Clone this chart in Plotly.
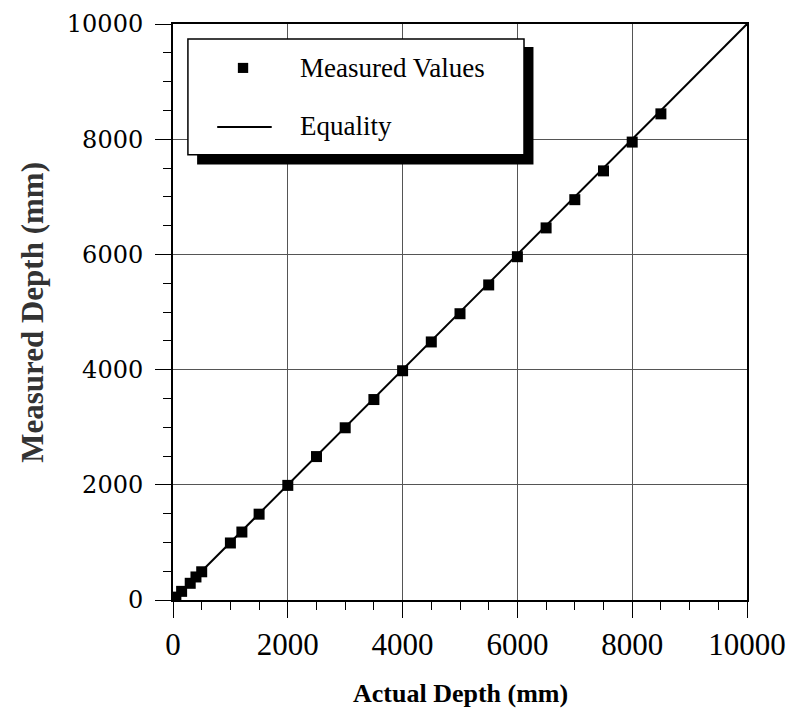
import plotly.graph_objects as go

# Depth readings (mm)
actual_depth = [0, 50, 150, 300, 400, 500, 1000, 1200, 1500, 2000, 2500, 3000,
                3500, 4000, 4500, 5000, 5500, 6000, 6500, 7000, 7500, 8000, 8500]
measured_depth = [0, 50, 150, 290, 400, 490, 990, 1180, 1490, 1990, 2490, 2990,
                  3480, 3980, 4480, 4970, 5470, 5960, 6460, 6950, 7450, 7950, 8440]
equality_x = [0, 10000]
equality_y = [0, 10000]
major_ticks = [0, 2000, 4000, 6000, 8000, 10000]

SERIF = "Liberation Serif, Times New Roman, serif"
WIDE_SERIF = "DejaVu Serif, serif"

fig = go.Figure()
fig.add_trace(go.Scatter(x=equality_x, y=equality_y, mode="lines",
                         line=dict(color="black", width=2), showlegend=False,
                         hoverinfo="skip"))
fig.add_trace(go.Scatter(x=actual_depth, y=measured_depth, mode="markers",
                         marker=dict(symbol="square", size=11, color="black"),
                         showlegend=False))

axis_common = dict(
    range=[0, 10000], tickvals=major_ticks, ticktext=[str(v) for v in major_ticks],
    showgrid=True, gridcolor="#555555", gridwidth=1,
    showline=True, linecolor="black", linewidth=2, mirror=True,
    ticks="outside", ticklen=16, tickwidth=1, tickcolor="black",
    minor=dict(dtick=500, ticks="outside", ticklen=8, tickwidth=1,
               tickcolor="black", showgrid=False),
    zeroline=False, fixedrange=True, automargin=False,
)
fig.update_xaxes(**axis_common, ticklabelstandoff=0,
                 tickfont=dict(family=SERIF, size=31, color="black"))
fig.update_yaxes(**axis_common, ticklabelstandoff=7,
                 tickfont=dict(family=WIDE_SERIF, size=24, color="black"))

# Legend box with drop shadow, in plot data coordinates
shapes = [
    dict(type="rect", xref="x", yref="y", x0=420, x1=6280, y0=7560, y1=9600,
         fillcolor="black", line=dict(width=0), layer="above"),
    dict(type="rect", xref="x", yref="y", x0=260, x1=6115, y0=7730, y1=9740,
         fillcolor="white", line=dict(color="black", width=1.5), layer="above"),
    dict(type="line", xref="x", yref="y", x0=770, x1=1720, y0=8212, y1=8212,
         line=dict(color="black", width=2), layer="above"),
    dict(type="rect", xref="x", yref="y", x0=1130, x1=1310, y0=9150, y1=9325,
         fillcolor="black", line=dict(width=0), layer="above"),
]

annotations = [
    dict(text="Measured Values", xref="x", yref="y", x=2170, y=9236,
         xanchor="left", yanchor="middle", showarrow=False,
         font=dict(family=SERIF, size=27, color="black")),
    dict(text="Equality", xref="x", yref="y", x=2170, y=8230,
         xanchor="left", yanchor="middle", showarrow=False,
         font=dict(family=SERIF, size=27, color="black")),
    dict(text="<b>Actual Depth (mm)</b>", xref="paper", yref="paper",
         x=0.5, y=-0.133, xanchor="center", yanchor="top", showarrow=False,
         font=dict(family=SERIF, size=26, color="black")),
    dict(text="<b>Measured Depth (mm)</b>", xref="paper", yref="paper",
         x=-0.246, y=0.5, xanchor="center", yanchor="middle", showarrow=False,
         textangle=-90, font=dict(family=SERIF, size=31, color="#333333")),
]

fig.update_layout(
    width=791, height=727,
    margin=dict(l=173, r=44, t=24, b=127),
    paper_bgcolor="white", plot_bgcolor="white",
    shapes=shapes, annotations=annotations,
    showlegend=False,
)

fig.write_html("out.html")
